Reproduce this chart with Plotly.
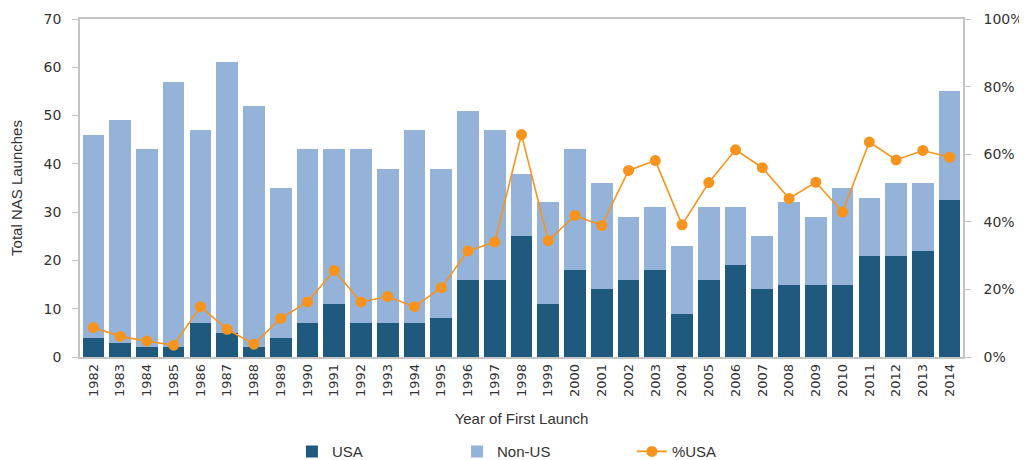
import plotly.graph_objects as go

years = [str(y) for y in range(1982, 2015)]
usa = [4, 3, 2, 2, 7, 5, 2, 4, 7, 11, 7, 7, 7, 8, 16, 16, 25, 11, 18, 14,
       16, 18, 9, 16, 19, 14, 15, 15, 15, 21, 21, 22, 32.5]
non_us = [42, 46, 41, 55, 40, 56, 50, 31, 36, 32, 36, 32, 40, 31, 35, 31, 13, 21, 25, 22,
          13, 13, 14, 15, 12, 11, 17, 14, 20, 12, 15, 14, 22.5]
pct_usa = [0.087, 0.061, 0.047, 0.035, 0.149, 0.082, 0.038, 0.114, 0.163, 0.256,
           0.163, 0.179, 0.149, 0.205, 0.314, 0.340, 0.658, 0.344, 0.419, 0.389,
           0.552, 0.581, 0.391, 0.516, 0.613, 0.560, 0.469, 0.517, 0.429, 0.636,
           0.583, 0.611, 0.591]

DARK = "#1f5a7e"
LIGHT = "#95b3d8"
ORANGE = "#f7941d"
AXIS = "#c4c4c4"
TXT = "#333333"
FONT = "Liberation Sans Narrow, Arial Narrow, Liberation Sans, sans-serif"
TICKFONT = "DejaVu Sans, Verdana, sans-serif"

fig = go.Figure()
fig.add_trace(go.Bar(
    x=years, y=usa, name="USA", marker=dict(color=DARK, line=dict(width=0)),
    showlegend=True, legend="legend",
))
fig.add_trace(go.Bar(
    x=years, y=non_us, name="Non-US", marker=dict(color=LIGHT, line=dict(width=0)),
    showlegend=True, legend="legend2",
))
fig.add_trace(go.Scatter(
    x=years, y=pct_usa, name="%USA", yaxis="y2", mode="lines+markers",
    line=dict(color=ORANGE, width=1.6), marker=dict(color=ORANGE, size=11),
    showlegend=True, legend="legend3",
))

legend_common = dict(
    orientation="h", yanchor="middle", y=-0.28, xanchor="left",
    font=dict(family=FONT, size=15, color=TXT), bgcolor="rgba(0,0,0,0)",
    itemwidth=30,
)

# page body adds an 8px offset, so the figure is 8px smaller than the window
fig.update_layout(
    width=1019,
    height=452,
    showlegend=True,
    barmode="stack",
    bargap=0.19,
    paper_bgcolor="white",
    plot_bgcolor="white",
    margin=dict(l=72, r=64, t=11, b=103, autoexpand=False),
    legend=dict(legend_common, x=0.24),
    legend2=dict(legend_common, x=0.427),
    legend3=dict(legend_common, x=0.625),
    xaxis=dict(
        type="category",
        range=[-0.5, len(years) - 0.5],
        tickangle=-90,
        tickfont=dict(family=TICKFONT, size=13, color=TXT),
        showline=True, linecolor=AXIS, linewidth=1.5, mirror=True,
        showgrid=False, ticks="", automargin=False,
        title=dict(text="Year of First Launch", standoff=17,
                   font=dict(family=FONT, size=15, color=TXT)),
    ),
    yaxis=dict(
        range=[0, 70], dtick=10,
        tickfont=dict(family=TICKFONT, size=14, color=TXT),
        showline=True, linecolor=AXIS, linewidth=1.5,
        ticks="outside", ticklen=6, tickcolor=AXIS, ticklabelstandoff=8,
        showgrid=False, zeroline=False, automargin=False,
        title=dict(text="Total NAS Launches", standoff=18,
                   font=dict(family=FONT, size=15, color=TXT)),
    ),
    yaxis2=dict(
        range=[0, 1], dtick=0.2, tickformat=".0%",
        overlaying="y", side="right",
        tickfont=dict(family=TICKFONT, size=14, color=TXT),
        showline=True, linecolor=AXIS, linewidth=1.5,
        ticks="outside", ticklen=6, tickcolor=AXIS, ticklabelstandoff=10,
        showgrid=False, zeroline=False, automargin=False,
    ),
)

fig.write_html("out.html")
